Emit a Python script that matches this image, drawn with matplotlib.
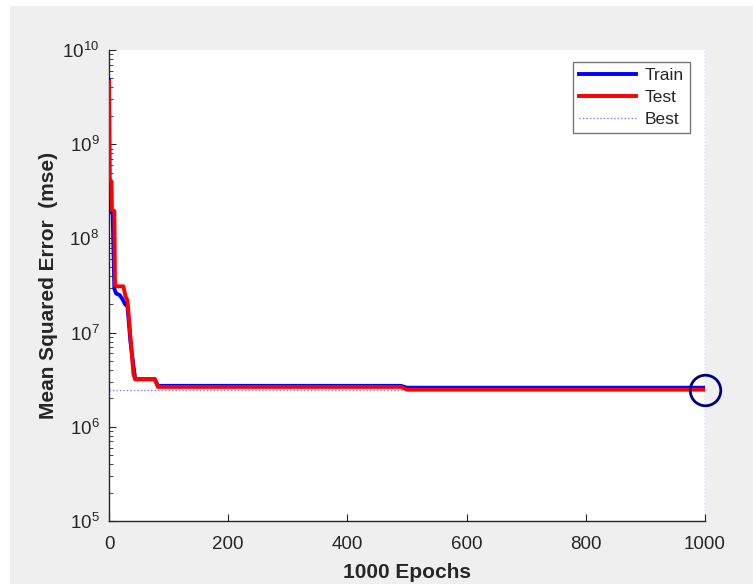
import matplotlib
matplotlib.use("Agg")
import matplotlib.pyplot as plt
from matplotlib.patches import Rectangle
from matplotlib.ticker import LogLocator, NullFormatter

plt.rcParams['font.family'] = ['Liberation Sans', 'DejaVu Sans']
plt.rcParams['mathtext.fontset'] = 'custom'
plt.rcParams['mathtext.rm'] = 'Liberation Sans'

# Training record (epoch, mean squared error)
train_epochs = [0, 1, 2, 6, 9, 12, 18, 22, 27, 31, 36, 40, 44, 77, 82, 490, 500, 1000]
train_mse = [4.8e9, 1.9e8, 1.9e8, 1.9e8, 2.9e7, 2.6e7, 2.5e7, 2.3e7, 2.0e7, 1.9e7, 8e6, 5e6, 3.2e6, 3.2e6, 2.72e6, 2.72e6, 2.6e6, 2.6e6]

test_epochs = [0, 1, 4, 5, 9, 10, 12, 24, 28, 31, 36, 41, 44, 77, 82, 490, 500, 1000]
test_mse = [4.6e9, 4.3e8, 4.0e8, 2.0e8, 1.95e8, 3.2e7, 3.1e7, 3.1e7, 2.4e7, 2.2e7, 9e6, 3.6e6, 3.2e6, 3.2e6, 2.65e6, 2.65e6, 2.48e6, 2.48e6]

best_epoch = 1000
best_mse = 2.48e6

fig = plt.figure(figsize=(7.53, 5.86), dpi=100, facecolor='white')
fig.patches.append(Rectangle((10 / 753, 1 - 584 / 586), 1 - 10 / 753, (584 - 6) / 586,
                             transform=fig.transFigure, facecolor='#efefef',
                             edgecolor='none', zorder=-10))

ax = fig.add_axes([109 / 753, 1 - 521 / 586, (705 - 109) / 753, (521 - 50) / 586])
ax.set_facecolor('white')

best_color = '#7e7ee6'
ax.plot(train_epochs, train_mse, color='#0000ff', lw=2.8, label='Train', zorder=3)
ax.plot(test_epochs, test_mse, color='#ff0000', lw=2.8, label='Test', zorder=4)
ax.axhline(best_mse, color=best_color, lw=1.0, ls=(0, (1, 1.5)), label='Best', zorder=2)
ax.axvline(best_epoch, color=best_color, lw=1.0, ls=(0, (1, 1.5)), zorder=2)
ax.plot([best_epoch], [best_mse], 'o', ms=22, mfc='none', mec='#000080', mew=2.0,
        zorder=5, clip_on=False)

ax.set_yscale('log')
ax.set_xlim(0, 1000)
ax.set_ylim(1e5, 1e10)
ax.set_xticks([0, 200, 400, 600, 800, 1000])
ax.yaxis.set_major_locator(LogLocator(base=10, numticks=10))
ax.yaxis.set_minor_locator(LogLocator(base=10, subs=range(2, 10), numticks=20))
ax.yaxis.set_minor_formatter(NullFormatter())

for side in ('top', 'right'):
    ax.spines[side].set_visible(False)
for side in ('left', 'bottom'):
    ax.spines[side].set_color('#262626')
    ax.spines[side].set_linewidth(1.0)

ax.tick_params(axis='both', which='major', direction='in', length=5, width=0.8,
               colors='#262626', labelsize=13.5, labelcolor='#262626')
ax.tick_params(axis='y', which='minor', direction='in', length=3, width=0.6, colors='#262626')
ax.tick_params(axis='x', pad=11)
ax.tick_params(axis='y', pad=7)

ax.set_xlabel('1000 Epochs', fontsize=15, fontweight='bold', color='#262626', labelpad=7)
ax.set_ylabel('Mean Squared Error  (mse)', fontsize=15, fontweight='bold', color='#262626',
              labelpad=3)

leg = ax.legend(loc='upper right', bbox_to_anchor=(690 / 753, 1 - 62 / 586),
                bbox_transform=fig.transFigure, fontsize=12.5, frameon=True,
                fancybox=False, handlelength=3.3, handletextpad=0.5,
                borderpad=0.35, labelspacing=0.38, borderaxespad=0)
leg.get_frame().set_edgecolor('#555555')
leg.get_frame().set_linewidth(1.0)
for t in leg.get_texts():
    t.set_color('#262626')

fig.savefig('out.png', dpi=100, facecolor=fig.get_facecolor())
